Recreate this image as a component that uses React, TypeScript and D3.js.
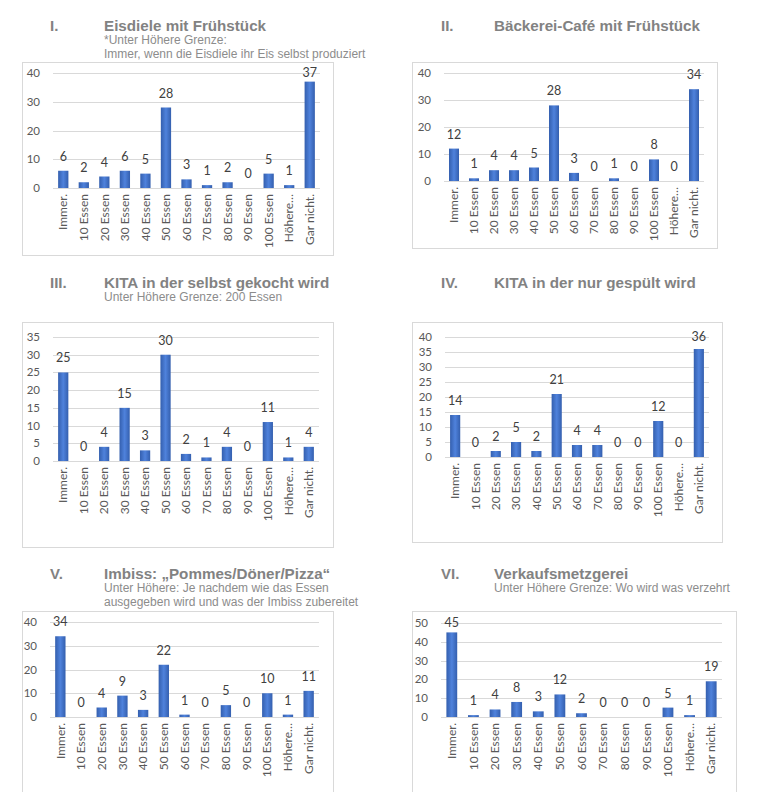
import React from 'react';
import * as d3 from 'd3';

const categories = ['Immer.', '10 Essen', '20 Essen', '30 Essen', '40 Essen', '50 Essen', '60 Essen', '70 Essen', '80 Essen', '90 Essen', '100 Essen', 'Höhere…', 'Gar nicht.'];

const eisdiele = [6, 2, 4, 6, 5, 28, 3, 1, 2, 0, 5, 1, 37];
const baeckerei = [12, 1, 4, 4, 5, 28, 3, 0, 1, 0, 8, 0, 34];
const kitaKocht = [25, 0, 4, 15, 3, 30, 2, 1, 4, 0, 11, 1, 4];
const kitaSpuelt = [14, 0, 2, 5, 2, 21, 4, 4, 0, 0, 12, 0, 36];
const imbiss = [34, 0, 4, 9, 3, 22, 1, 0, 5, 0, 10, 1, 11];
const metzgerei = [45, 1, 4, 8, 3, 12, 2, 0, 0, 0, 5, 1, 19];

// y axis: [max, step]
const axes: [number, number][] = [[40, 10], [40, 10], [35, 5], [40, 5], [40, 10], [50, 10]];

const numerals = ['I.', 'II.', 'III.', 'IV.', 'V.', 'VI.'];
const titles = ['Eisdiele mit Frühstück', 'Bäckerei-Café mit Frühstück', 'KITA in der selbst gekocht wird', 'KITA in der nur gespült wird', 'Imbiss: „Pommes/Döner/Pizza“', 'Verkaufsmetzgerei'];
const subtitles: string[][] = [
  ['*Unter Höhere Grenze:', 'Immer, wenn die Eisdiele ihr Eis selbst produziert'],
  [],
  ['Unter Höhere Grenze: 200 Essen'],
  [],
  ['Unter Höhere: Je nachdem wie das Essen', 'ausgegeben wird und was der Imbiss zubereitet'],
  ['Unter Höhere Grenze: Wo wird was verzehrt'],
];

const series = [eisdiele, baeckerei, kitaKocht, kitaSpuelt, imbiss, metzgerei];

// layout per panel
const layout = [
  { box: [22, 62, 333, 255], plot: [53, 73, 320, 188], numX: 50, titleX: 104, titleY: 31 },
  { box: [412, 62, 717, 248], plot: [444, 73, 704, 181], numX: 441, titleX: 494, titleY: 31 },
  { box: [22, 322, 333, 547], plot: [53, 337, 319, 461], numX: 50, titleX: 104, titleY: 288 },
  { box: [412, 322, 722, 542], plot: [445, 337, 709, 457], numX: 441, titleX: 494, titleY: 288 },
  { box: [22, 611, 333, 800], plot: [50, 622, 319, 717], numX: 50, titleX: 104, titleY: 579 },
  { box: [412, 611, 736, 800], plot: [441, 623, 722, 717], numX: 441, titleX: 494, titleY: 579 },
];

const FONT = 'Lato, "Open Sans", sans-serif';
const TITLE_FONT = '"Liberation Sans", Arial, sans-serif';

function Panel({ i }: { i: number }) {
  const L = layout[i];
  const values = series[i];
  const [yMax, yStep] = axes[i];
  const [pl, pt, pr, pb] = L.plot;
  const [bx0, by0, bx1, by1] = L.box;

  const x = d3.scaleBand<string>().domain(categories).range([pl, pr]).paddingInner(0.5).paddingOuter(0.25);
  const y = d3.scaleLinear().domain([0, yMax]).range([pb, pt]);
  const ticks = d3.range(0, yMax + 1, yStep);

  return (
    <g>
      <text x={L.numX} y={L.titleY} fontFamily={TITLE_FONT} fontWeight="bold" fontSize={15} fill="#828282">{numerals[i]}</text>
      <text x={L.titleX} y={L.titleY} fontFamily={TITLE_FONT} fontWeight="bold" fontSize={15.2} fill="#828282">{titles[i]}</text>
      {subtitles[i].map((s, k) => (
        <text key={k} x={L.titleX} y={L.titleY + 12.5 + k * 14} fontFamily={TITLE_FONT} fontSize={12} fill="#8c8c8c">{s}</text>
      ))}
      <rect x={bx0 + 0.5} y={by0 + 0.5} width={bx1 - bx0} height={by1 - by0} fill="#fff" stroke="#d9d9d9" />
      {ticks.map(t => (
        <g key={t}>
          <line x1={pl} x2={pr} y1={Math.round(y(t)) + 0.5} y2={Math.round(y(t)) + 0.5} stroke="#d9d9d9" />
          <text x={pl - 13} y={y(t)} dy="0.35em" textAnchor="end" fontFamily={FONT} fontSize={11.5} fill="#595959">{t}</text>
        </g>
      ))}
      {values.map((v, k) => {
        const c = categories[k];
        const x0 = x(c)!;
        const cx = x0 + x.bandwidth() / 2;
        return (
          <g key={c}>
            <rect x={x0} y={y(v)} width={x.bandwidth()} height={pb - y(v)} fill="url(#barGrad)" />
            <text x={cx} y={Math.max(y(v) - 10, pt + 4)} textAnchor="middle" fontFamily={FONT} fontSize={12.5} fill="#404040">{v}</text>
            <text transform={`translate(${cx},${pb + 6}) rotate(-90)`} dy="0.35em" textAnchor="end" fontFamily={FONT} fontSize={12} fill="#595959">{c}</text>
          </g>
        );
      })}
    </g>
  );
}

export default function App() {
  return (
    <svg width={768} height={792} style={{ position: 'absolute', left: 0, top: 0, background: '#fff' }}>
      <defs>
        <linearGradient id="barGrad" x1="0" x2="1" y1="0" y2="0">
          <stop offset="0%" stopColor="#345fae" />
          <stop offset="50%" stopColor="#4f82dc" />
          <stop offset="100%" stopColor="#345fae" />
        </linearGradient>
      </defs>
      <rect width={768} height={792} fill="#fff" />
      {layout.map((_, i) => <Panel key={i} i={i} />)}
    </svg>
  );
}
